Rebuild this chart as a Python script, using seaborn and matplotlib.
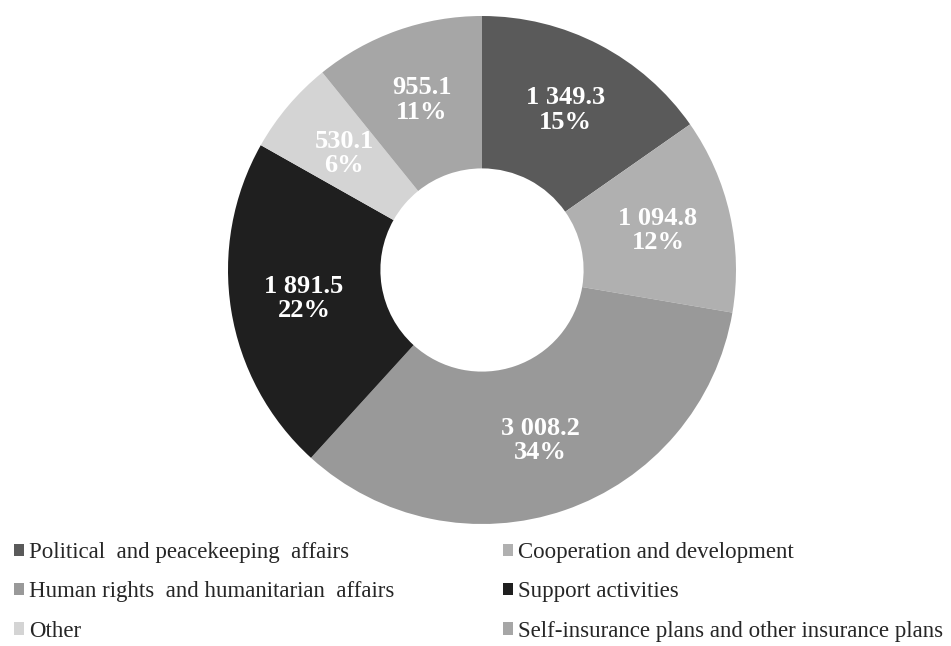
import matplotlib
matplotlib.use("Agg")
import matplotlib.pyplot as plt
from matplotlib.patches import Patch
import seaborn as sns

# Expenditure by category (clockwise from 12 o'clock)
categories = [
    "Political  and peacekeeping  affairs",
    "Cooperation and development",
    "Human rights  and humanitarian  affairs",
    "Support activities",
    "Other",
    "Self-insurance plans and other insurance plans",
]
values = [1349.3, 1094.8, 3008.2, 1891.5, 530.1, 955.1]
value_labels = ["1 349.3", "1 094.8", "3 008.2", "1 891.5", "530.1", "955.1"]
pct_labels = ["15%", "12%", "34%", "22%", "6%", "11%"]
colors = ["#5a5a5a", "#b0b0b0", "#999999", "#1f1f1f", "#d4d4d4", "#a6a6a6"]

sns.set_theme(style="white")
plt.rcParams["font.family"] = ["Liberation Serif", "DejaVu Serif"]

fig = plt.figure(figsize=(9.51, 6.46), dpi=100)
ax = fig.add_axes([228 / 951, 1 - 524 / 646, 508 / 951, 508 / 646])

labels = [f"{v}\n{p}" for v, p in zip(value_labels, pct_labels)]
wedges, texts = ax.pie(
    values,
    colors=colors,
    startangle=90,
    counterclock=False,
    radius=1.0,
    labels=labels,
    labeldistance=0.71,
    wedgeprops=dict(width=0.60, linewidth=0),
    textprops=dict(color="white", fontsize=19, fontweight="bold",
                   ha="center", va="center", linespacing=1.1),
)
for t in texts:
    t.set_horizontalalignment("center")
ax.set_xlim(-1, 1)
ax.set_ylim(-1, 1)
ax.set_aspect("equal")
ax.axis("off")

handles = [Patch(facecolor=c, edgecolor="none") for c in colors]
legend_kw = dict(frameon=False, fontsize=16.5, handlelength=0.45, handleheight=0.45,
                 handletextpad=0.2, labelspacing=0.80, borderaxespad=0, borderpad=0)

left_idx = [0, 2, 4]
right_idx = [1, 3, 5]
leg1 = fig.legend([handles[i] for i in left_idx], [categories[i] for i in left_idx],
                  loc="upper left", bbox_to_anchor=(14 / 951, 1 - 542 / 646), **legend_kw)
leg2 = fig.legend([handles[i] for i in right_idx], [categories[i] for i in right_idx],
                  loc="upper left", bbox_to_anchor=(503 / 951, 1 - 542 / 646), **legend_kw)

fig.savefig("out.png", dpi=100, facecolor="white")
